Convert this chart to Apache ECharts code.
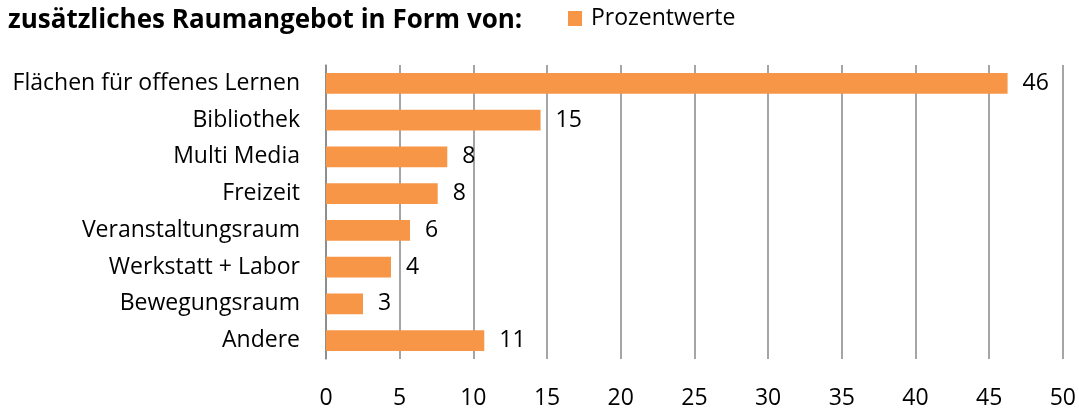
<!DOCTYPE html>
<html><head><meta charset="utf-8">
<script src="https://cdn.jsdelivr.net/npm/echarts@6/dist/echarts.min.js"></script>
<style>html,body{margin:0;padding:0;background:#fff}#c{width:1079px;height:414px}</style>
</head><body><div id="c"></div>
<script>
const categories = ["Flächen für offenes Lernen","Bibliothek","Multi Media","Freizeit","Veranstaltungsraum","Werkstatt + Labor","Bewegungsraum","Andere"];
const values = [46.25, 14.56, 8.23, 7.58, 5.70, 4.41, 2.51, 10.74];
const valueLabels = ["46","15","8","8","6","4","3","11"];
const xTicks = [0,5,10,15,20,25,30,35,40,45,50];
const seriesName = "Prozentwerte";
const titleText = "zusätzliches Raumangebot in Form von:";

const FONT = "Open Sans";
const chart = echarts.init(document.getElementById('c'), null, {renderer:'canvas'});
chart.setOption({
  animation:false,
  title:{text:titleText,left:8,top:8,padding:0,textStyle:{fontFamily:FONT,fontWeight:'bold',fontSize:26,color:'#000'}},
  legend:{data:[seriesName],left:568,top:7,padding:0,icon:'rect',itemWidth:14,itemHeight:15,
    textStyle:{fontFamily:FONT,fontSize:23,color:'#000',padding:[0,0,0,4]}},
  grid:{left:326,right:16,top:65,bottom:55,containLabel:false},
  xAxis:{type:'value',min:xTicks[0],max:xTicks[xTicks.length-1],interval:5,
    axisLine:{show:false},axisTick:{show:false},
    splitLine:{show:true,lineStyle:{color:'#878787',width:1.5}},
    axisLabel:{margin:28,fontFamily:FONT,fontSize:23,color:'#000'}},
  yAxis:{type:'category',data:categories,inverse:true,
    axisLine:{show:true,lineStyle:{color:'#878787',width:1.5}},axisTick:{show:false},
    axisLabel:{margin:26,fontFamily:FONT,fontSize:23,color:'#000'}},
  series:[{name:seriesName,type:'bar',data:values,barWidth:'57%',
    itemStyle:{color:'#F79646'},
    label:{show:true,position:'right',distance:15,fontFamily:FONT,fontSize:23,color:'#000',
      formatter:p=>valueLabels[p.dataIndex]}}]
});
</script></body></html>
